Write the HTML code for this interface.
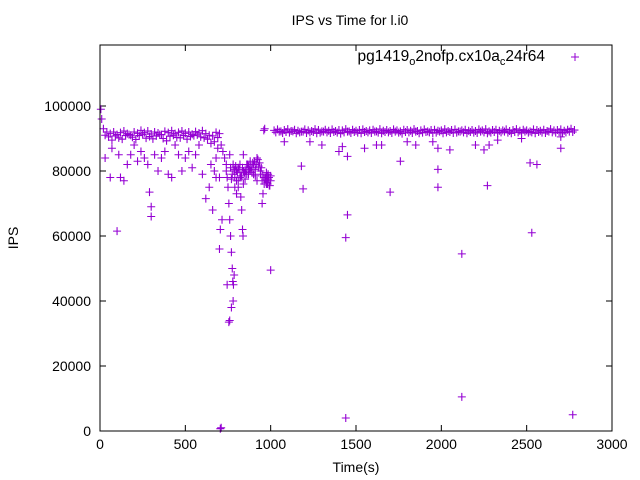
<!DOCTYPE html>
<html><head><meta charset="utf-8"><style>
body{margin:0;background:#fff}
svg{display:block;font-family:"Liberation Sans",sans-serif}
</style></head><body>
<svg id="chart" width="640" height="480">
<rect width="640" height="480" fill="#fff"/>
<text x="350" y="25" font-size="14" text-anchor="middle">IPS vs Time for l.i0</text>
<text transform="translate(18,238) rotate(-90)" font-size="14" text-anchor="middle">IPS</text>
<text x="356" y="472" font-size="14" text-anchor="middle">Time(s)</text>
<g id="ticks"></g>
<g id="marks"></g>
<rect x="100" y="45" width="512" height="386" fill="none" stroke="#000" stroke-width="1"/>
<g>
<text x="545" y="61" font-size="15.5" text-anchor="end">pg1419<tspan font-size="11" dy="4">o</tspan><tspan dy="-4">2nofp.cx10a</tspan><tspan font-size="11" dy="4">c</tspan><tspan dy="-4">24r64</tspan></text>
<path d="M571 57h8M575 53v8" stroke="#9400d3" stroke-width="1"/>
</g>
</svg>
<script>
const xTicks=[0,500,1000,1500,2000,2500,3000];
const yTicks=[0,20000,40000,60000,80000,100000];
const bandATimes=[5,20,40,60,80,100,120,140,160,180,200,220,240,260,280,300,320,340,360,380,400,420,440,460,480,500,520,540,560,580,600,620,640,660,680,700];
const bandAIps=[99000,93000,92000,91500,92000,91200,91800,92300,91500,91000,92000,91600,92500,91800,92300,91400,92000,91700,91200,92200,91800,92400,91500,91900,92300,91600,92000,91300,92100,91700,92400,91500,91000,90800,91900,91500];
const bandA2Times=[10,30,50,70,90,110,130,150,170,190,210,230,250,270,290,310,330,350,370,390,410,430,450,470,490,510,530,550,570,590,610,630,650,670,690];
const bandA2Ips=[96000,91000,90500,89500,90800,90200,89800,90900,91200,90400,89700,90900,91300,90100,90600,89900,90800,91200,90000,89300,90700,91000,90300,90200,90900,89800,90600,90900,91100,90500,90200,89800,88500,89000,90300];
const bandBTimes=[1020,1040,1060,1080,1100,1120,1140,1160,1180,1200,1220,1240,1260,1280,1300,1320,1340,1360,1380,1400,1420,1440,1460,1480,1500,1520,1540,1560,1580,1600,1620,1640,1660,1680,1700,1720,1740,1760,1780,1800,1820,1840,1860,1880,1900,1920,1940,1960,1980,2000,2020,2040,2060,2080,2100,2120,2140,2160,2180,2200,2220,2240,2260,2280,2300,2320,2340,2360,2380,2400,2420,2440,2460,2480,2500,2520,2540,2560,2580,2600,2620,2640,2660,2680,2700,2720,2740,2760,2780];
const bandBIps=[92500,92800,92200,92600,92900,92300,92700,92400,92100,92800,92500,92300,92900,92600,92200,92700,92400,92800,92300,92600,92500,92900,92200,92700,92400,92600,92800,92300,92500,92700,92200,92900,92400,92600,92300,92800,92500,92200,92700,92600,92400,92900,92300,92500,92800,92200,92600,92700,92400,92500,92900,92300,92600,92800,92200,92500,92700,92400,92600,92300,92800,92500,92900,92200,92600,92700,92400,92500,92800,92300,92600,92900,92400,92700,92500,92200,92800,92600,92400,92700,92300,92900,92500,92600,92800,92400,92700,93000,92600];
const bandB2Times=[1030,1050,1070,1090,1110,1130,1150,1170,1190,1210,1230,1250,1270,1290,1310,1330,1350,1370,1390,1410,1430,1450,1470,1490,1510,1530,1550,1570,1590,1610,1630,1650,1670,1690,1710,1730,1750,1770,1790,1810,1830,1850,1870,1890,1910,1930,1950,1970,1990,2010,2030,2050,2070,2090,2110,2130,2150,2170,2190,2210,2230,2250,2270,2290,2310,2330,2350,2370,2390,2410,2430,2450,2470,2490,2510,2530,2550,2570,2590,2610,2630,2650,2670,2690,2710,2730,2750,2770];
const bandB2Ips=[91900,92100,91700,92000,91800,92200,91600,91900,92100,91700,91900,92000,91600,91800,92100,91900,91700,92000,91800,91500,91900,92100,91700,92000,91800,91600,92000,91900,91700,92100,91800,91600,92000,91900,91700,92100,91800,91500,92000,91900,91700,92100,91600,91800,92000,91900,91700,91800,92100,91600,91900,92000,91700,91800,92100,91900,91600,92000,91800,91700,92100,91900,91600,91800,92000,91700,91900,92100,91800,91600,92000,91900,91700,92100,91800,91900,91600,92000,91800,91700,92100,91900,91800,92000,91700,91900,92100,92000];
const dipTimes=[710,720,730,740,745,750,755,760,765,770,775,778,782,786,740,760,780,800,800,820,820,840,840,860,860,880,880,900,900,920,930,940,950,960,965,970,975,980,985,990,1000,995,955,950,810,825,830,835,838,790,800,760,755,705,710,690,680,670,700,700,705,715,1000,745,780,770,840,790,810,850,870,890,910,920,940,960,980,1000,985,975,765,775,785,795,805,815,825,835,845,855,865,875,885,895,905,915,925,935,945,770,790,810,830,850,870,890,910,930,950,962,972,982,992,968,978,988];
const dipIps=[88000,86000,84000,82000,78000,75000,70000,65000,60000,55000,50000,46000,45000,48000,80000,85000,82000,80000,77000,82000,78000,80000,76000,82000,79000,80000,83000,82000,79000,84000,81000,80000,77000,92500,93000,78000,76000,77000,79000,78000,77000,75500,73000,70000,75000,72000,68000,62000,60000,75000,73000,34000,33500,700,1000,87000,84000,80000,78000,56000,62000,65000,49500,45000,40000,38000,85000,80500,81000,79500,81500,80000,78500,77000,79000,78000,76500,78500,77500,79500,81000,79000,80000,81500,79500,80500,78500,81000,79500,80000,82000,80500,81000,82500,83000,82000,83500,82500,81000,77500,78000,77000,78500,77500,79000,79500,80500,81500,79000,76000,77000,76000,75500,77500,78500];
const scatterTimes=[30,60,70,100,110,120,140,160,180,200,220,240,260,280,290,300,300,320,340,360,380,400,420,440,460,480,500,520,540,560,580,600,620,640,660,680,650,1080,1180,1190,1230,1300,1400,1420,1440,1440,1450,1450,1550,1620,1650,1700,1760,1800,1850,1950,1980,1980,1980,2050,2120,2120,2200,2250,2270,2280,2330,2470,2520,2530,2560,2700,2770,2700];
const scatterIps=[84000,78000,87000,61500,85000,78000,77000,82000,85000,88000,83000,86000,84000,82000,73500,69000,66000,85000,80000,84000,86000,79000,78000,88000,85000,80000,84000,86000,81000,85000,88000,79000,71500,75000,68000,78000,82000,89000,81500,74500,89000,88000,86000,87500,59500,4000,66500,84500,87000,88000,88000,73500,83000,89000,88000,89000,75000,80500,87000,86500,54500,10500,88000,86500,75500,88000,89500,90000,82500,61000,82000,87000,5000,90500];

const X0=100,X1=612,Y0=431,YPER=325/100000;
function xs(t){return X0+t*(X1-X0)/3000;}
function ys(v){return Y0-v*YPER;}
const NS="http://www.w3.org/2000/svg";
const tg=document.getElementById('ticks');
xTicks.forEach(t=>{
  const p=document.createElementNS(NS,'path');
  const x=xs(t);
  p.setAttribute('d',`M${x} ${Y0}v-6M${x} 45v6`);
  p.setAttribute('stroke','#000');
  
  
  tg.appendChild(p);
  const l=document.createElementNS(NS,'text');
  l.setAttribute('x',x);l.setAttribute('y',449);
  l.setAttribute('font-size','14');l.setAttribute('text-anchor','middle');
  l.textContent=t;
  
  
  tg.appendChild(l);
});
yTicks.forEach(v=>{
  const p=document.createElementNS(NS,'path');
  const y=ys(v);
  p.setAttribute('d',`M${X0} ${y}h6M${X1} ${y}h-6`);
  p.setAttribute('stroke','#000');
  
  
  tg.appendChild(p);
  const l=document.createElementNS(NS,'text');
  l.setAttribute('x',91);l.setAttribute('y',y+5);
  l.setAttribute('font-size','14');l.setAttribute('text-anchor','end');
  l.textContent=v;
  
  
  tg.appendChild(l);
});
const mg=document.getElementById('marks');
function plot(ts,vs){
  let d='';
  for(let i=0;i<ts.length;i++){const x=xs(ts[i]),y=ys(vs[i]);d+=`M${x-4} ${y}h8M${x} ${y-4}v8`;}
  const p=document.createElementNS(NS,'path');
  p.setAttribute('d',d);p.setAttribute('stroke','#9400d3');p.setAttribute('stroke-width','1.1');p.setAttribute('fill','none');
  
  
  mg.appendChild(p);
}
plot(bandATimes,bandAIps);
plot(bandA2Times,bandA2Ips);
plot(bandBTimes,bandBIps);
plot(bandB2Times,bandB2Ips);
plot(dipTimes,dipIps);
plot(scatterTimes,scatterIps);
</script>
</body></html>
